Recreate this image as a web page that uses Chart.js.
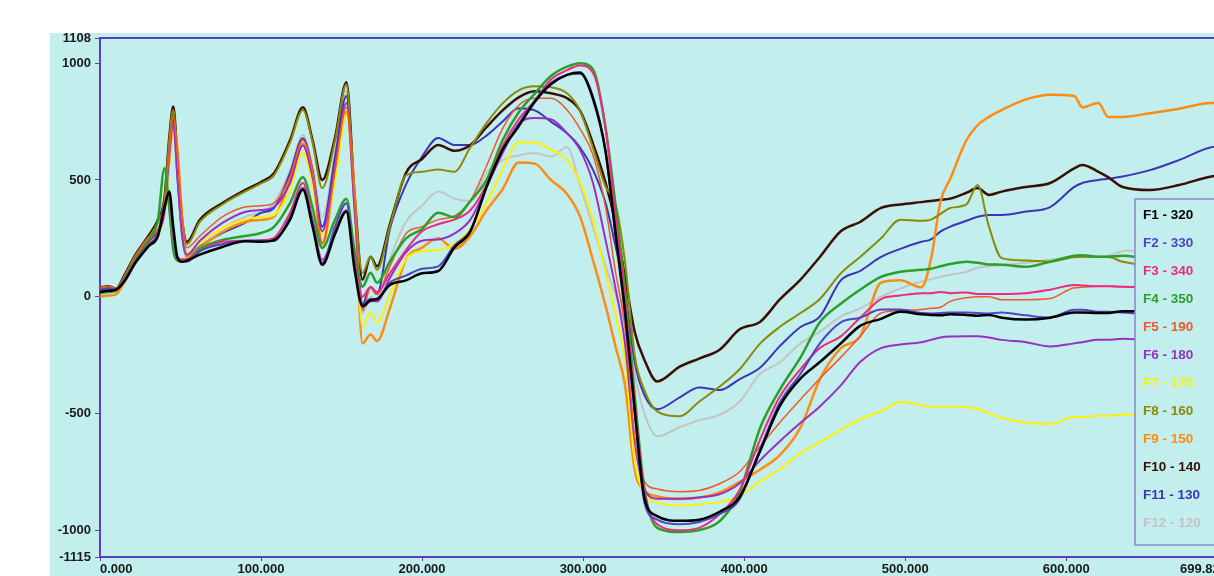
<!DOCTYPE html>
<html>
<head>
<meta charset="utf-8">
<script src="https://cdn.jsdelivr.net/npm/chart.js@4.4.1/dist/chart.umd.min.js"></script>
<style>
  html, body { margin: 0; padding: 0; background: #fff; overflow: hidden; }
  #wrap { width: 1240px; height: 576px; }
</style>
</head>
<body>
<div id="wrap"><canvas id="traceChart" width="1240" height="576"></canvas></div>
<script>
// sample positions (x axis) shared by all traces
const xs = [0,5,10,15,22,30,36,40,43,45.5,48,51,54,62,76,90,100,108,118,126,132,138,146,153,158,163,168,172,
  180,190,200,210,220,230,240,250,260,270,280,290,298,306,314,320,326,332,338,346,360,372,385,397,410,422,435,
  447,460,472,485,497,510,516,522,528,538,545,552,560,575,590,605,610,620,626,635,652,670,690,699.82];

const f1 = [20,25,30,65,145,215, 260,380,450,300,170,150,155, 180,213,237,235,242, 330,458,300,137,270,
  365,120,-40,-15,-10, 50,70,100,110,210, 280,470,630,730,835, 910,950,960,850,620, 280,-60,-480,-860,-940,
  -960,-955,-920,-860,-660, -470,-350,-280,-200,-125, -95,-65,-75,-78,-80, -75,-78,-82,-78,-90,
  -98,-90,-68,-68,-70, -70,-62,-62,-62,-62,-63];
const f2 = [30,35,30,70,150,220, 270,390,440,280,165,150,150, 195,225,240,240,238, 342,465,320,145,300,
  400,140,-35,-10,-10, 60,90,120,130,220, 285,470,630,740,840, 915,950,955,860,620, 260,-80,-500,-880,-955,
  -975,-965,-930,-870,-650, -455,-330,-200,-110,-90, -55,-55,-70,-72,-70, -68,-68,-70,-72,-68,
  -80,-90,-56,-56,-65, -65,-68,-75,-75,-76,-77];
const f3 = [25,30,28,70,150,225, 270,400,430,260,170,160,160, 195,235,240,242,252, 360,487,330,158,280,
  370,160,0,43,20, 100,200,280,310,330, 370,480,645,760,840, 930,970,990,960,720, 350,-10,-450,-830,-975,
  -1000,-990,-930,-830,-610, -430,-310,-220,-170,-90, -10,5,15,15,20, 15,18,12,12,12,
  15,30,50,48,45, 45,43,40,40,40,38];
const f4 = [15,20,25,75,160,240, 330,550,380,200,155,150,155, 205,243,260,273,299, 401,512,380,209,330,
  420,200,43,102,60, 150,250,290,360,340, 410,500,670,790,870, 945,985,1000,975,720, 400,30,-420,-820,-990,
  -1008,-1000,-960,-840,-560, -400,-260,-110,-30,30, 85,107,115,120,130, 140,150,145,138,137,
  128,150,175,178,171, 171,175,165,165,167,168];
const f5 = [40,45,35,85,175,255, 290,380,620,770,620,330,210, 260,342,384,390,401, 512,670,530,230,540,
  810,420,-60,40,10, 130,270,300,330,345, 410,560,720,820,850, 850,800,720,610,380, 110,-130,-600,-790,-824,
  -835,-830,-800,-751,-640, -540,-440,-350,-260,-170, -70,-60,-55,-50,-45, -20,-5,0,0,-13,
  -13,-8,38,40,45, 45,43,45,45,48,48];
const f6 = [30,35,30,75,160,235, 280,360,600,740,520,270,180, 240,316,363,371,384, 487,648,510,280,560,
  830,380,-47,-20,-20, 80,190,240,245,270, 330,470,615,740,765, 760,700,630,490,240, 40,-200,-620,-820,-865,
  -865,-860,-845,-800,-700, -620,-540,-470,-380,-280, -220,-205,-195,-185,-175, -171,-170,-170,-175,-185,
  -195,-213,-200,-195,-185, -185,-180,-185,-185,-180,-180];
const f7 = [20,25,25,70,150,225, 270,350,580,720,540,280,185, 230,295,330,342,350, 457,619,480,270,500,
  780,400,-128,-68,-110, 10,160,195,200,225, 290,400,545,660,660, 630,585,490,330,100, -70,-270,-700,-840,-880,
  -895,-890,-880,-854,-790, -740,-670,-623,-570,-525, -490,-450,-465,-472,-474, -470,-474,-480,-500,-520,
  -540,-545,-515,-515,-510, -510,-505,-505,-510,-510,-510];
const f8 = [35,40,35,85,175,250, 320,410,670,800,590,320,225, 320,395,450,485,520, 660,800,660,465,670,
  910,430,102,171,115, 300,520,535,545,535, 640,743,828,884,901, 897,871,798,640,470, 400,150,-250,-400,-491,
  -512,-450,-384,-312,-200, -130,-70,-10,100,170, 250,330,325,330,355, 380,395,478,300,165,
  155,150,170,171,170, 170,150,135,128,122,120];
const f9 = [0,5,10,60,150,230, 280,360,580,740,640,340,170, 210,278,320,329,342, 500,655,520,225,520,
  790,450,-200,-162,-190, -50,160,210,250,205, 260,370,460,575,570, 500,440,345,160,-40, -210,-380,-740,-830,-855,
  -867,-860,-837,-794,-740, -680,-560,-354,-220,-170, 60,70,40,160,410, 505,670,735,770,800,
  845,865,860,811,830, 770,770,786,805,830,830];
const f10 = [40,45,35,90,180,260, 330,420,680,815,600,330,235, 329,401,457,491,529, 670,811,670,500,683,
  918,444,73,171,130, 310,530,590,650,625, 650,726,798,854,880, 871,850,798,658,487, 316,85,-150,-270,-363,
  -300,-265,-226,-141,-107, -13,73,170,280,320, 380,395,405,410,415, 420,445,465,436,450,
  470,487,550,564,535, 512,470,457,478,515,520];
const f11 = [25,30,30,75,160,235, 280,370,630,760,520,260,170, 215,273,316,359,380, 529,679,540,300,600,
  860,400,-30,40,10, 290,480,600,680,650, 650,690,750,807,798, 750,700,640,545,400, 220,20,-280,-420,-482,
  -431,-389,-400,-354,-303, -213,-130,-85,70,110, 170,205,235,245,280, 300,325,342,350,350,
  365,384,470,487,500, 505,515,542,585,640,645];
const f12 = [30,35,30,80,165,240, 290,380,640,780,560,290,180, 230,295,342,363,401, 542,692,560,342,620,
  880,450,-70,0,-20, 160,320,390,450,420, 410,530,585,605,615, 600,640,480,300,130, 10,-110,-330,-500,-598,
  -559,-530,-505,-450,-330, -282,-200,-150,-85,-50, 0,35,65,75,85, 94,107,124,130,135,
  145,158,168,170,172, 175,195,200,210,222,225];

const seriesNames = ['F1 - 320','F2 - 330','F3 - 340','F4 - 350','F5 - 190','F6 - 180',
  'F7 - 170','F8 - 160','F9 - 150','F10 - 140','F11 - 130','F12 - 120'];
const seriesValues = [f1, f2, f3, f4, f5, f6, f7, f8, f9, f10, f11, f12];
const xTickValues = [0, 100, 200, 300, 400, 500, 600, 699.82];
const yTickValues = [-1115, -1000, -500, 0, 500, 1000, 1108];

const colors = ['#000000','#5243c4','#f0287e','#2e9e2a','#f4582a','#9a2fc0',
  '#fff000','#8a8a08','#ff8c10','#3c0f04','#3b36b4','#c4c4c4'];
const widths = [2.5, 2, 2, 2.5, 1.5, 2, 2, 2, 2.5, 2.5, 2, 2];

const bgColor = '#c2eeee';
const axisColor = '#5a40c0';
const labelFont = { family: "'Liberation Sans', Arial, sans-serif", size: 13, weight: 'bold' };

const decorations = {
  id: 'decorations',
  beforeDraw(chart) {
    const c = chart.ctx;
    c.save();
    c.fillStyle = bgColor;
    c.fillRect(50, 33, chart.width - 50, chart.height - 33);
    c.restore();
  },
  afterDatasetsDraw(chart) {
    const c = chart.ctx;
    const area = chart.chartArea;
    c.save();
    // top frame line
    c.strokeStyle = axisColor;
    c.lineWidth = 2;
    c.beginPath();
    c.moveTo(area.left, area.top);
    c.lineTo(area.right, area.top);
    c.stroke();
    // legend box
    c.fillStyle = bgColor;
    c.fillRect(1135, 199, 120, 346);
    c.strokeStyle = '#8a88cc';
    c.lineWidth = 1.5;
    c.strokeRect(1135, 199, 120, 346);
    c.font = "bold 13.5px 'Liberation Sans', Arial, sans-serif";
    c.textBaseline = 'middle';
    c.textAlign = 'left';
    seriesNames.forEach((name, i) => {
      c.fillStyle = colors[i];
      c.fillText(name, 1143, 215 + i * 28);
    });
    c.restore();
  }
};

const ctx = document.getElementById('traceChart').getContext('2d');
const traceChart = new Chart(ctx, {
  type: 'line',
  data: {
    datasets: seriesValues.map((vals, i) => ({
      label: seriesNames[i],
      data: xs.map((x, j) => ({ x: x, y: vals[j] })),
      borderColor: colors[i],
      backgroundColor: colors[i],
      borderWidth: widths[i],
      pointRadius: 0,
      fill: false,
      cubicInterpolationMode: 'monotone'
    }))
  },
  options: {
    responsive: false,
    animation: false,
    layout: { padding: { top: 38, right: 13, left: 0, bottom: 0 } },
    plugins: {
      legend: { display: false },
      tooltip: { enabled: false }
    },
    scales: {
      x: {
        type: 'linear',
        min: 0,
        max: 699.82,
        afterBuildTicks: axis => { axis.ticks = xTickValues.map(v => ({ value: v })); },
        afterFit: scale => { scale.height = 19; },
        ticks: {
          autoSkip: false,
          maxRotation: 0,
          align: 'inner',
          padding: 1,
          color: '#1a1a1a',
          font: labelFont,
          callback: v => Number(v).toFixed(3)
        },
        grid: { drawOnChartArea: false, tickLength: 4, tickColor: axisColor },
        border: { color: axisColor, width: 2 }
      },
      y: {
        min: -1115,
        max: 1108,
        afterBuildTicks: axis => { axis.ticks = yTickValues.map(v => ({ value: v })); },
        afterFit: scale => { scale.width = 100; },
        ticks: {
          padding: 4,
          color: '#1a1a1a',
          font: labelFont,
          callback: v => String(v)
        },
        grid: { drawOnChartArea: false, tickLength: 5, tickColor: axisColor },
        border: { color: axisColor, width: 2 }
      }
    }
  },
  plugins: [decorations]
});
</script>
</body>
</html>
